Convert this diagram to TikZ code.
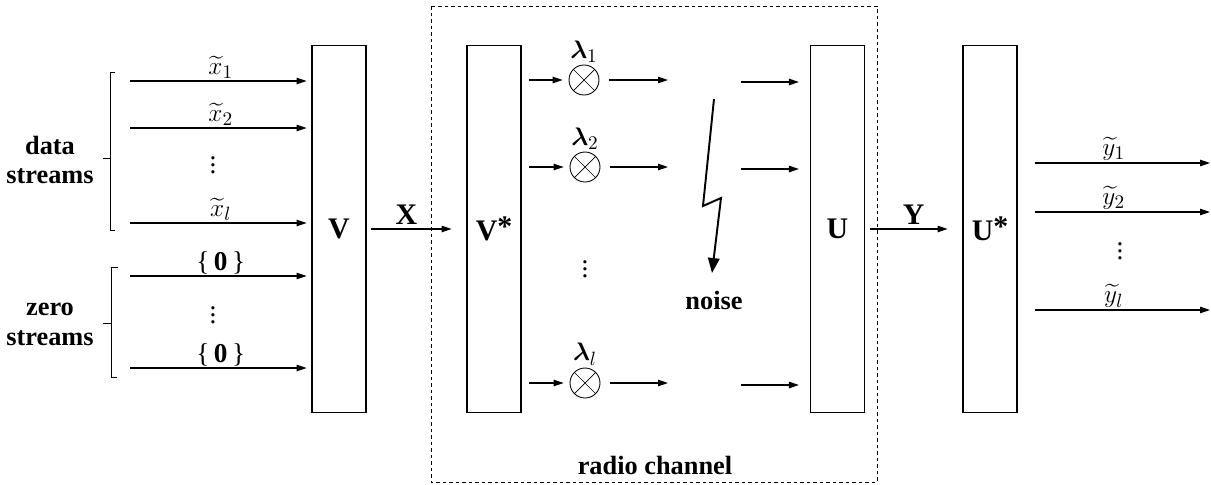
\documentclass[tikz,border=0pt]{standalone}
\usepackage{amsmath}
\usepackage{fontspec}
\setmainfont{Liberation Serif}
\usetikzlibrary{arrows.meta,positioning}

\begin{document}
\begin{tikzpicture}[x=0.02cm, y=-0.02cm,
    matbox/.style={draw, line width=0.6pt, minimum width=1.08cm, minimum height=7.36cm, inner sep=0pt, font=\fontsize{17}{20}\selectfont\bfseries},
    mult/.style={draw, circle, line width=0.5pt, minimum size=0.6cm, inner sep=0pt,
        path picture={\draw[line width=0.4pt] (path picture bounding box.north west) -- (path picture bounding box.south east)
            (path picture bounding box.north east) -- (path picture bounding box.south west);}},
    arrow/.style={-{Triangle[length=2mm,width=1.3mm]}, line width=0.6pt},
    bolt/.style={-{Triangle[length=3mm,width=2.3mm]}, line width=1.1pt},
    lbl/.style={font=\fontsize{15}{17}\selectfont\bfseries, align=center},
    big/.style={font=\fontsize{17}{20}\selectfont\bfseries, inner sep=2pt},
    sym/.style={font=\fontsize{15.5}{17}\selectfont, inner sep=1pt}
]
    \useasboundingbox (0,0) rectangle (1211,484);

    % radio channel
    \draw[dashed, dash pattern=on 2pt off 1.7pt, line width=0.5pt] (431,6) rectangle (877,482);
    \node[lbl] (radio) at (655,465) {radio channel};

    % matrix blocks
    \node[matbox] (V) at (339,229) {V};
    \node[matbox] (Vs) at (494,229) {V\raisebox{0.3ex}{*}};
    \node[matbox] (U) at (837.5,229) {U};
    \node[matbox] (Us) at (990,229) {U\raisebox{0.3ex}{*}};

    % inputs
    \node[lbl] (data) at (50,160) {data\\streams};
    \node[lbl] (zero) at (50,324) {zero\\streams};
    \draw[line width=0.5pt] (115,72) -- (110,72) -- (110,230) -- (115,230) (103,158) -- (110,158);
    \draw[line width=0.5pt] (118,267) -- (111,267) -- (111,377) -- (117,377) (103,323) -- (111,323);

    \coordinate (x1) at (130,81);
    \coordinate (x2) at (130,128);
    \coordinate (xl) at (130,223);
    \coordinate (z1) at (130,276);
    \coordinate (zl) at (130,368);
    \draw[arrow, shorten >=2.8pt] (x1) -- node[sym, above] {$\widetilde{x}_1$} (x1 -| V.west);
    \draw[arrow, shorten >=2.8pt] (x2) -- node[sym, above] {$\widetilde{x}_2$} (x2 -| V.west);
    \node[sym] (xdots) at (213,160) {$\vdots$};
    \draw[arrow, shorten >=2.8pt] (xl) -- node[sym, above] {$\widetilde{x}_l$} (xl -| V.west);
    \draw[arrow, shorten >=2.8pt] (z1) -- node[sym, above] {\{\,\textbf{0}\,\}} (z1 -| V.west);
    \node[sym] (zdots) at (213,310) {$\vdots$};
    \draw[arrow, shorten >=2.8pt] (zl) -- node[sym, above] {\{\,\textbf{0}\,\}} (zl -| V.west);

    \draw[arrow, shorten <=2.3pt, shorten >=8.5pt] (V.east) -- node[big, above, pos=0.4] {X} (Vs.west);

    % channel gains
    \node[mult] (m1) at (584,80) {};
    \node[mult] (m2) at (585,167) {};
    \node[mult] (ml) at (585,383) {};
    \node[sym, above=0pt of m1] (lam1) {$\boldsymbol{\lambda}_1$};
    \node[sym, above=0pt of m2] (lam2) {$\boldsymbol{\lambda}_2$};
    \node[sym, above=0pt of ml] (laml) {$\boldsymbol{\lambda}_l$};
    \node[sym] (mdots) at (585,264) {$\vdots$};

    \draw[arrow, shorten <=4.5pt, shorten >=3.4pt] (m1 -| Vs.east) -- (m1.west);
    \draw[arrow, shorten <=4.5pt, shorten >=3.4pt] (m2 -| Vs.east) -- (m2.west);
    \draw[arrow, shorten <=4.5pt, shorten >=3.4pt] (ml -| Vs.east) -- (ml.west);

    \coordinate (c1) at (668,80);
    \coordinate (c2) at (668,167);
    \coordinate (cl) at (668,383);
    \draw[arrow, shorten <=5.7pt] (m1.east) -- (c1);
    \draw[arrow, shorten <=5.7pt] (m2.east) -- (c2);
    \draw[arrow, shorten <=5.7pt] (ml.east) -- (cl);

    \coordinate (e1) at (741,82);
    \coordinate (e2) at (741,169);
    \coordinate (el) at (741,385);
    \draw[arrow, shorten >=6.3pt] (e1) -- (e1 -| U.west);
    \draw[arrow, shorten >=6.3pt] (e2) -- (e2 -| U.west);
    \draw[arrow, shorten >=6.3pt] (el) -- (el -| U.west);

    % noise
    \node[lbl] (noise) at (714,300) {noise};
    \coordinate (b1) at (714,99);
    \coordinate (b2) at (703,206);
    \coordinate (b3) at (721,198);
    \coordinate (b4) at (712,273);
    \draw[bolt] (b1) -- (b2) -- (b3) -- (b4);

    \draw[arrow, shorten <=2.8pt, shorten >=8.5pt] (U.east) -- node[big, above] {Y} (Us.west);

    % outputs
    \coordinate (y1) at (1210,163);
    \coordinate (y2) at (1210,212);
    \coordinate (yl) at (1210,310);
    \draw[arrow, shorten <=9.7pt] (y1 -| Us.east) -- node[sym, above] {$\widetilde{y}_1$} (y1);
    \draw[arrow, shorten <=9.7pt] (y2 -| Us.east) -- node[sym, above] {$\widetilde{y}_2$} (y2);
    \node[sym] (ydots) at (1120,246) {$\vdots$};
    \draw[arrow, shorten <=9.7pt] (yl -| Us.east) -- node[sym, above] {$\widetilde{y}_l$} (yl);
\end{tikzpicture}
\end{document}
